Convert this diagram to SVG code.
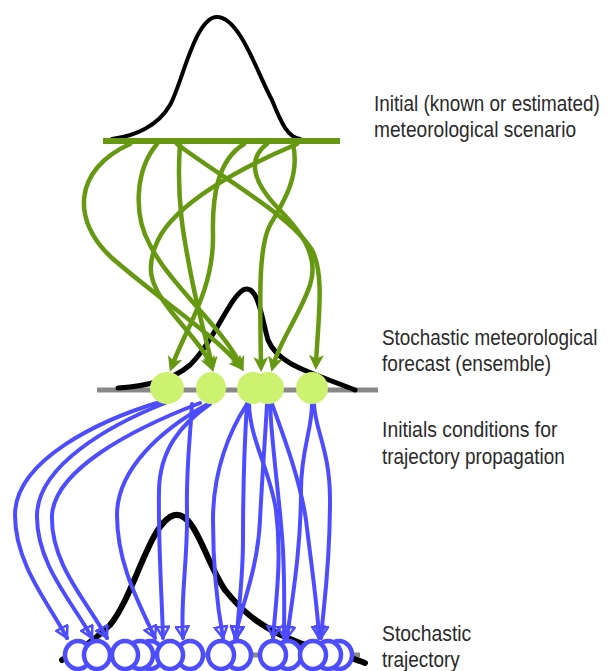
<svg xmlns="http://www.w3.org/2000/svg" width="611" height="671" viewBox="0 0 611 671">
<style>
.lbl{font-family:"Liberation Sans",Arial,sans-serif;font-size:22px;fill:#2a2a2a}
.g{fill:none;stroke:#669911;stroke-width:4.5;stroke-linecap:round}
.b{fill:none;stroke:#4d4dff;stroke-width:4;stroke-linecap:round}
.gc{fill:#ccf270;stroke:none}
.bc{fill:#fff;stroke:#4d4dff;stroke-width:4.5}
.dist{fill:none;stroke:#000;stroke-linecap:round;stroke-linejoin:round}
</style>
<defs>
<marker id="ga" viewBox="0 0 10 10" refX="6" refY="5" markerWidth="15" markerHeight="15" markerUnits="userSpaceOnUse" orient="auto">
<path d="M0,0 L10,5 L0,10 L2.5,5 z" fill="#669911"/>
</marker>
<marker id="ba" viewBox="0 0 12 12" refX="10" refY="6" markerWidth="15" markerHeight="15" markerUnits="userSpaceOnUse" orient="auto">
<path d="M1,1 L10,6 L1,11 z" fill="none" stroke="#4d4dff" stroke-width="2"/>
</marker>
</defs>

<g id="initial-scenario">
<path class="dist" stroke-width="4" d="M112,139 C 135,136 158,126 170,105 C 182,84 195,17 217,17 C 240,17 258,75 272,100 C 282,125 288,137 300,139"/>
<line x1="103" y1="141" x2="340" y2="141" stroke="#669911" stroke-width="6"/>
</g>

<g id="forecast-axis">
<line x1="97" y1="390" x2="378" y2="390" stroke="#888" stroke-width="5"/>
<path class="dist" stroke-width="5" d="M118,388 C 150,386 175,378 190,365 C 215,340 228,300 243,290 C 258,282 262,320 268,340 C 278,365 310,372 355,390"/>
</g>

<g id="trajectory-axis">
<line x1="66" y1="655" x2="360" y2="655" stroke="#888" stroke-width="5"/>
<path class="dist" stroke-width="6" d="M62,660 C 80,650 95,640 110,625 C 135,595 150,520 175,515 C 195,512 205,560 225,590 C 245,615 265,630 300,643 C 330,652 350,657 365,663"/>
</g>

<g id="connectors">
<g id="green-arrows">
<path class="g" marker-end="url(#ga)" d="M130,144 C 72,170 72,222 112,258 C 160,300 215,335 240,366"/>
<path class="g" marker-end="url(#ga)" d="M157,144 C 135,170 133,215 150,245 C 170,285 225,330 241,366"/>
<path class="g" marker-end="url(#ga)" d="M180,144 C 176,200 184,240 192,280 C 200,320 208,345 212,366"/>
<path class="g" marker-end="url(#ga)" d="M297,144 C 235,170 175,205 158,240 C 145,268 150,285 170,310 C 190,335 205,350 211,366"/>
<path class="g" marker-end="url(#ga)" d="M244,144 C 218,160 212,195 213,235 C 214,290 185,330 172,366"/>
<path class="g" marker-end="url(#ga)" d="M177,144 C 225,180 290,215 312,250 C 325,275 318,320 316,364"/>
<path class="g" marker-end="url(#ga)" d="M267,144 C 248,158 252,180 275,205 C 300,230 320,255 310,285 C 300,315 280,340 273,366"/>
<path class="g" marker-end="url(#ga)" d="M293,144 C 300,175 285,200 270,225 C 258,248 260,300 261,366"/>
</g>
<g id="blue-arrows">
<path class="b" marker-end="url(#ba)" d="M160,402 C 100,420 15,460 15,515 C 15,565 50,605 67,638"/>
<path class="b" marker-end="url(#ba)" d="M165,403 C 110,425 38,465 37,515 C 36,565 75,605 92,638"/>
<path class="b" marker-end="url(#ba)" d="M200,403 C 130,430 55,470 52,515 C 50,565 90,605 107,638"/>
<path class="b" marker-end="url(#ba)" d="M208,404 C 160,430 117,470 117,515 C 117,565 140,605 155,638"/>
<path class="b" marker-end="url(#ba)" d="M210,404 C 180,425 160,450 159,490 C 158,540 162,600 163,638"/>
<path class="b" marker-end="url(#ba)" d="M192,404 C 190,440 186,470 187,510 C 188,560 180,600 183,638"/>
<path class="b" marker-end="url(#ba)" d="M247,404 C 230,430 213,470 213,520 C 213,570 218,610 223,638"/>
<path class="b" marker-end="url(#ba)" d="M247,404 C 244,450 243,500 243,540 C 243,580 238,610 237,638"/>
<path class="b" marker-end="url(#ba)" d="M249,404 C 250,440 270,470 276,510 C 282,560 276,600 273,638"/>
<path class="b" marker-end="url(#ba)" d="M267,404 C 265,440 262,480 260,520 C 258,570 240,610 235,638"/>
<path class="b" marker-end="url(#ba)" d="M270,404 C 272,450 280,500 283,550 C 285,590 284,615 284,638"/>
<path class="b" marker-end="url(#ba)" d="M272,404 C 285,440 300,480 306,520 C 312,570 318,610 319,638"/>
<path class="b" marker-end="url(#ba)" d="M312,404 C 312,430 301,450 301,490 C 301,550 292,600 287,638"/>
<path class="b" marker-end="url(#ba)" d="M314,404 C 315,430 330,450 330,500 C 330,570 323,610 321,638"/>
</g>
</g>

<g id="ensemble-members">
<ellipse id="member-1" class="gc" cx="167" cy="388" rx="17" ry="16"/>
<ellipse id="member-2" class="gc" cx="211" cy="388" rx="15" ry="16"/>
<ellipse id="member-3" class="gc" cx="253" cy="388" rx="16" ry="16"/>
<ellipse id="member-4" class="gc" cx="268" cy="388" rx="16" ry="16"/>
<ellipse id="member-5" class="gc" cx="312" cy="388" rx="16" ry="16"/>
</g>

<g id="trajectories">
<ellipse class="bc" cx="78" cy="655" rx="13" ry="14"/>
<ellipse class="bc" cx="97" cy="655" rx="13" ry="14"/>
<ellipse class="bc" cx="150" cy="655" rx="13" ry="14"/>
<ellipse class="bc" cx="140" cy="655" rx="13" ry="14"/>
<ellipse class="bc" cx="125" cy="655" rx="13" ry="14"/>
<ellipse class="bc" cx="190" cy="655" rx="13" ry="14"/>
<ellipse class="bc" cx="170" cy="655" rx="13" ry="14"/>
<ellipse class="bc" cx="238" cy="655" rx="13" ry="14"/>
<ellipse class="bc" cx="221" cy="655" rx="13" ry="14"/>
<ellipse class="bc" cx="288" cy="655" rx="13" ry="14"/>
<ellipse class="bc" cx="273" cy="655" rx="13" ry="14"/>
<ellipse class="bc" cx="339" cy="655" rx="13" ry="14"/>
<ellipse class="bc" cx="328" cy="655" rx="13" ry="14"/>
<ellipse class="bc" cx="313" cy="655" rx="13" ry="14"/>
</g>

<g id="labels">
<g transform="translate(374,111) scale(0.86,1)"><text class="lbl" x="0" y="0">Initial (known or estimated)</text></g>
<g transform="translate(374,137) scale(0.87,1)"><text class="lbl" x="0" y="0">meteorological scenario</text></g>
<g transform="translate(382,345) scale(0.86,1)"><text class="lbl" x="0" y="0">Stochastic meteorological</text></g>
<g transform="translate(382,371) scale(0.87,1)"><text class="lbl" x="0" y="0">forecast (ensemble)</text></g>
<g transform="translate(382,437) scale(0.88,1)"><text class="lbl" x="0" y="0">Initials conditions for</text></g>
<g transform="translate(382,464) scale(0.86,1)"><text class="lbl" x="0" y="0">trajectory propagation</text></g>
<g transform="translate(382,641) scale(0.88,1)"><text class="lbl" x="0" y="0">Stochastic</text></g>
<g transform="translate(382,667) scale(0.86,1)"><text class="lbl" x="0" y="0">trajectory</text></g>
</g>
</svg>
